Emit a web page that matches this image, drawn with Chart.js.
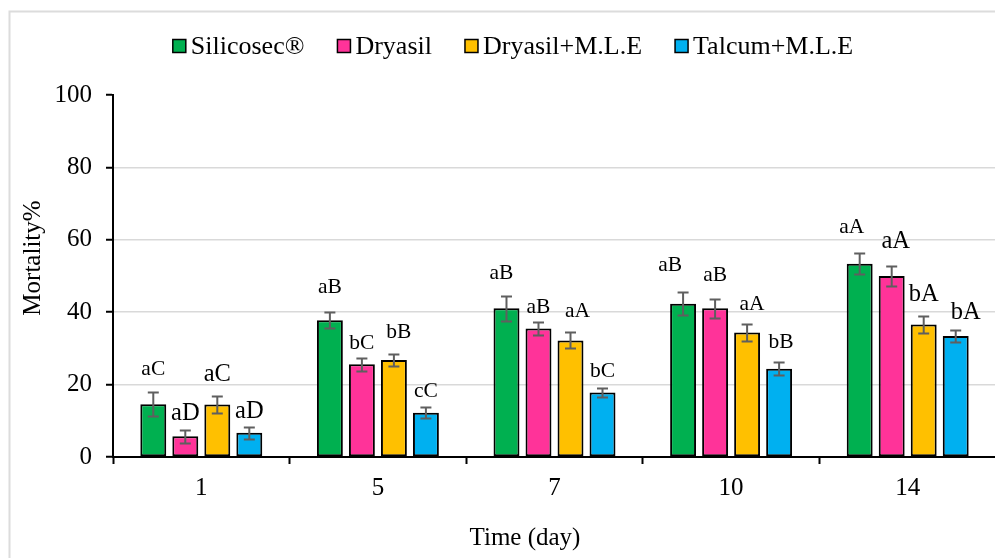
<!DOCTYPE html>
<html>
<head>
<meta charset="utf-8">
<title>Mortality over time</title>
<script src="https://cdn.jsdelivr.net/npm/chart.js@4/dist/chart.umd.min.js"></script>
<style>
  html, body { margin: 0; padding: 0; background: #fff; overflow: hidden; }
  #wrap { position: absolute; left: 0; top: 0; width: 1000px; height: 558px; }
</style>
</head>
<body>
<div id="wrap"><canvas id="chart" width="1000" height="558"></canvas></div>
<script>
// Exposure time (days)
const categories = ['1', '5', '7', '10', '14'];
const yTicks = [0, 20, 40, 60, 80, 100];
const seriesNames = ['Silicosec®', 'Dryasil', 'Dryasil+M.L.E', 'Talcum+M.L.E'];

// Mean mortality (%)
const silicosec  = [14.6, 37.8, 41.1, 42.3, 53.4];
const dryasil    = [5.7, 25.6, 35.5, 41.1, 50.0];
const dryasilMLE = [14.5, 26.8, 32.2, 34.4, 36.6];
const talcumMLE  = [6.7, 12.2, 17.8, 24.4, 33.4];

// Standard error
const silicosecErr  = [3.4, 2.2, 3.5, 3.2, 2.9];
const dryasilErr    = [1.7, 1.8, 1.7, 2.6, 2.9];
const dryasilMLEErr = [2.4, 1.7, 2.2, 2.4, 2.3];
const talcumMLEErr  = [1.7, 1.5, 1.35, 1.75, 1.7];

// Significance letters
const silicosecLetters  = ['aC', 'aB', 'aB', 'aB', 'aA'];
const dryasilLetters    = ['aD', 'bC', 'aB', 'aB', 'aA'];
const dryasilMLELetters = ['aC', 'bB', 'aA', 'aA', 'bA'];
const talcumMLELetters  = ['aD', 'cC', 'bC', 'bB', 'bA'];

// Letter placement: font size, lift above the error cap, sideways nudge (px)
const letterSize = [
  [21.5, 21.5, 21.5, 21.5, 21.5],
  [24.5, 21.5, 21.5, 21.5, 24.5],
  [24.5, 21.5, 21.5, 21.5, 24.5],
  [24.5, 21.5, 21.5, 21.5, 24.5]
];
const letterLift = [
  [17, 19, 17, 21, 20],
  [10, 9, 9, 18, 18],
  [15, 16, 15, 14, 15],
  [9, 10, 11, 14, 11]
];
const letterShift = [
  [0, 0, -5, -13, -8],
  [0, 0, 0, 0, 4],
  [0, 5, 7, 5, 0],
  [0, 0, 0, 2, 10]
];

const seriesValues = [silicosec, dryasil, dryasilMLE, talcumMLE];
const seriesErrors = [silicosecErr, dryasilErr, dryasilMLEErr, talcumMLEErr];
const seriesLetters = [silicosecLetters, dryasilLetters, dryasilMLELetters, talcumMLELetters];
const seriesColors = ['#00B050', '#FF3399', '#FFC000', '#00B0F0'];

const SERIF = '"Liberation Serif", "Times New Roman", Times, serif';

const datasets = seriesNames.map((name, i) => ({
  label: name,
  data: seriesValues[i],
  backgroundColor: seriesColors[i],
  borderColor: '#000',
  borderWidth: 2,
  borderSkipped: false,
  categoryPercentage: 0.725,
  barPercentage: 0.81
}));

// White page with a light frame
const framePlugin = {
  id: 'frame',
  beforeDraw(chart) {
    const ctx = chart.ctx;
    ctx.save();
    ctx.fillStyle = '#fff';
    ctx.fillRect(0, 0, chart.width, chart.height);
    ctx.strokeStyle = '#dcdcdc';
    ctx.lineWidth = 2;
    ctx.beginPath();
    ctx.moveTo(9.5, chart.height + 5);
    ctx.lineTo(9.5, 11.5);
    ctx.lineTo(chart.width + 5, 11.5);
    ctx.stroke();
    ctx.restore();
  }
};

// Error bars and significance letters
const annotatePlugin = {
  id: 'annotate',
  afterDatasetsDraw(chart) {
    const ctx = chart.ctx;
    const y = chart.scales.y;
    ctx.save();
    chart.data.datasets.forEach((ds, di) => {
      const meta = chart.getDatasetMeta(di);
      meta.data.forEach((bar, i) => {
        const v = ds.data[i];
        const e = seriesErrors[di][i];
        const yt = Math.round(y.getPixelForValue(v + e)) + 0.5;
        const yb = Math.round(y.getPixelForValue(v - e)) + 0.5;
        const x = bar.x;
        ctx.strokeStyle = '#5f5f5f';
        ctx.lineWidth = 2;
        ctx.beginPath();
        ctx.moveTo(x, yt); ctx.lineTo(x, yb);
        ctx.moveTo(x - 5.5, yt); ctx.lineTo(x + 5.5, yt);
        ctx.moveTo(x - 5.5, yb); ctx.lineTo(x + 5.5, yb);
        ctx.stroke();
      });
    });
    chart.data.datasets.forEach((ds, di) => {
      const meta = chart.getDatasetMeta(di);
      meta.data.forEach((bar, i) => {
        const v = ds.data[i];
        const e = seriesErrors[di][i];
        const yt = y.getPixelForValue(v + e);
        ctx.fillStyle = '#000';
        ctx.font = letterSize[di][i] + 'px ' + SERIF;
        ctx.textAlign = 'center';
        ctx.textBaseline = 'alphabetic';
        ctx.fillText(seriesLetters[di][i], bar.x + letterShift[di][i], yt - letterLift[di][i]);
      });
    });
    ctx.restore();
  }
};

// Legend row and axis titles
const textPlugin = {
  id: 'texts',
  afterDraw(chart) {
    const ctx = chart.ctx;
    ctx.save();
    ctx.fillStyle = '#000';
    ctx.textBaseline = 'middle';
    ctx.textAlign = 'left';

    // legend
    ctx.font = '26px ' + SERIF;
    const box = 13, gapText = 5, gapItem = 33, cy = 46;
    const items = chart.data.datasets.map(ds => ({ text: ds.label, color: ds.backgroundColor }));
    const widths = items.map(it => box + gapText + ctx.measureText(it.text).width);
    const total = widths.reduce((a, b) => a + b, 0) + gapItem * (items.length - 1);
    let x = 513 - total / 2;
    items.forEach((it, k) => {
      ctx.fillStyle = it.color;
      ctx.fillRect(x, cy - box / 2, box, box);
      ctx.strokeStyle = '#000';
      ctx.lineWidth = 1.5;
      ctx.strokeRect(x, cy - box / 2, box, box);
      ctx.fillStyle = '#000';
      ctx.fillText(it.text, x + box + gapText, cy + 1);
      x += widths[k] + gapItem;
    });

    // x title
    ctx.font = '25px ' + SERIF;
    ctx.textAlign = 'center';
    ctx.fillText('Time (day)', 525, 538);

    // y title
    ctx.translate(33, 258);
    ctx.rotate(-Math.PI / 2);
    ctx.fillText('Mortality%', 0, 0);
    ctx.restore();
  }
};

new Chart(document.getElementById('chart'), {
  type: 'bar',
  data: { labels: categories, datasets },
  plugins: [framePlugin, annotatePlugin, textPlugin],
  options: {
    responsive: false,
    animation: false,
    devicePixelRatio: 1,
    layout: { padding: { left: 55, right: 4, top: 95, bottom: 0 } },
    plugins: {
      legend: { display: false },
      tooltip: { enabled: false }
    },
    scales: {
      x: {
        grid: {
          offset: true,
          drawOnChartArea: false,
          drawTicks: true,
          tickLength: 7,
          tickColor: '#000',
          tickWidth: 2
        },
        border: { display: true, color: '#000', width: 2 },
        ticks: { color: '#000', font: { family: SERIF, size: 25 }, padding: 9 },
        afterFit(scale) { scale.height = 101; }
      },
      y: {
        min: 0,
        max: 100,
        afterBuildTicks(scale) { scale.ticks = yTicks.map(v => ({ value: v })); },
        grid: {
          color: ctx => (ctx.tick && (ctx.tick.value === 0 || ctx.tick.value === 100)) ? 'rgba(0,0,0,0)' : '#d9d9d9',
          lineWidth: 1.5,
          drawTicks: true,
          tickLength: 7,
          tickColor: '#000',
          tickWidth: 2
        },
        border: { display: true, color: '#000', width: 2 },
        ticks: { color: '#000', font: { family: SERIF, size: 25 }, padding: 14 },
        afterFit(scale) { scale.width = 58; }
      }
    }
  }
});
</script>
</body>
</html>
